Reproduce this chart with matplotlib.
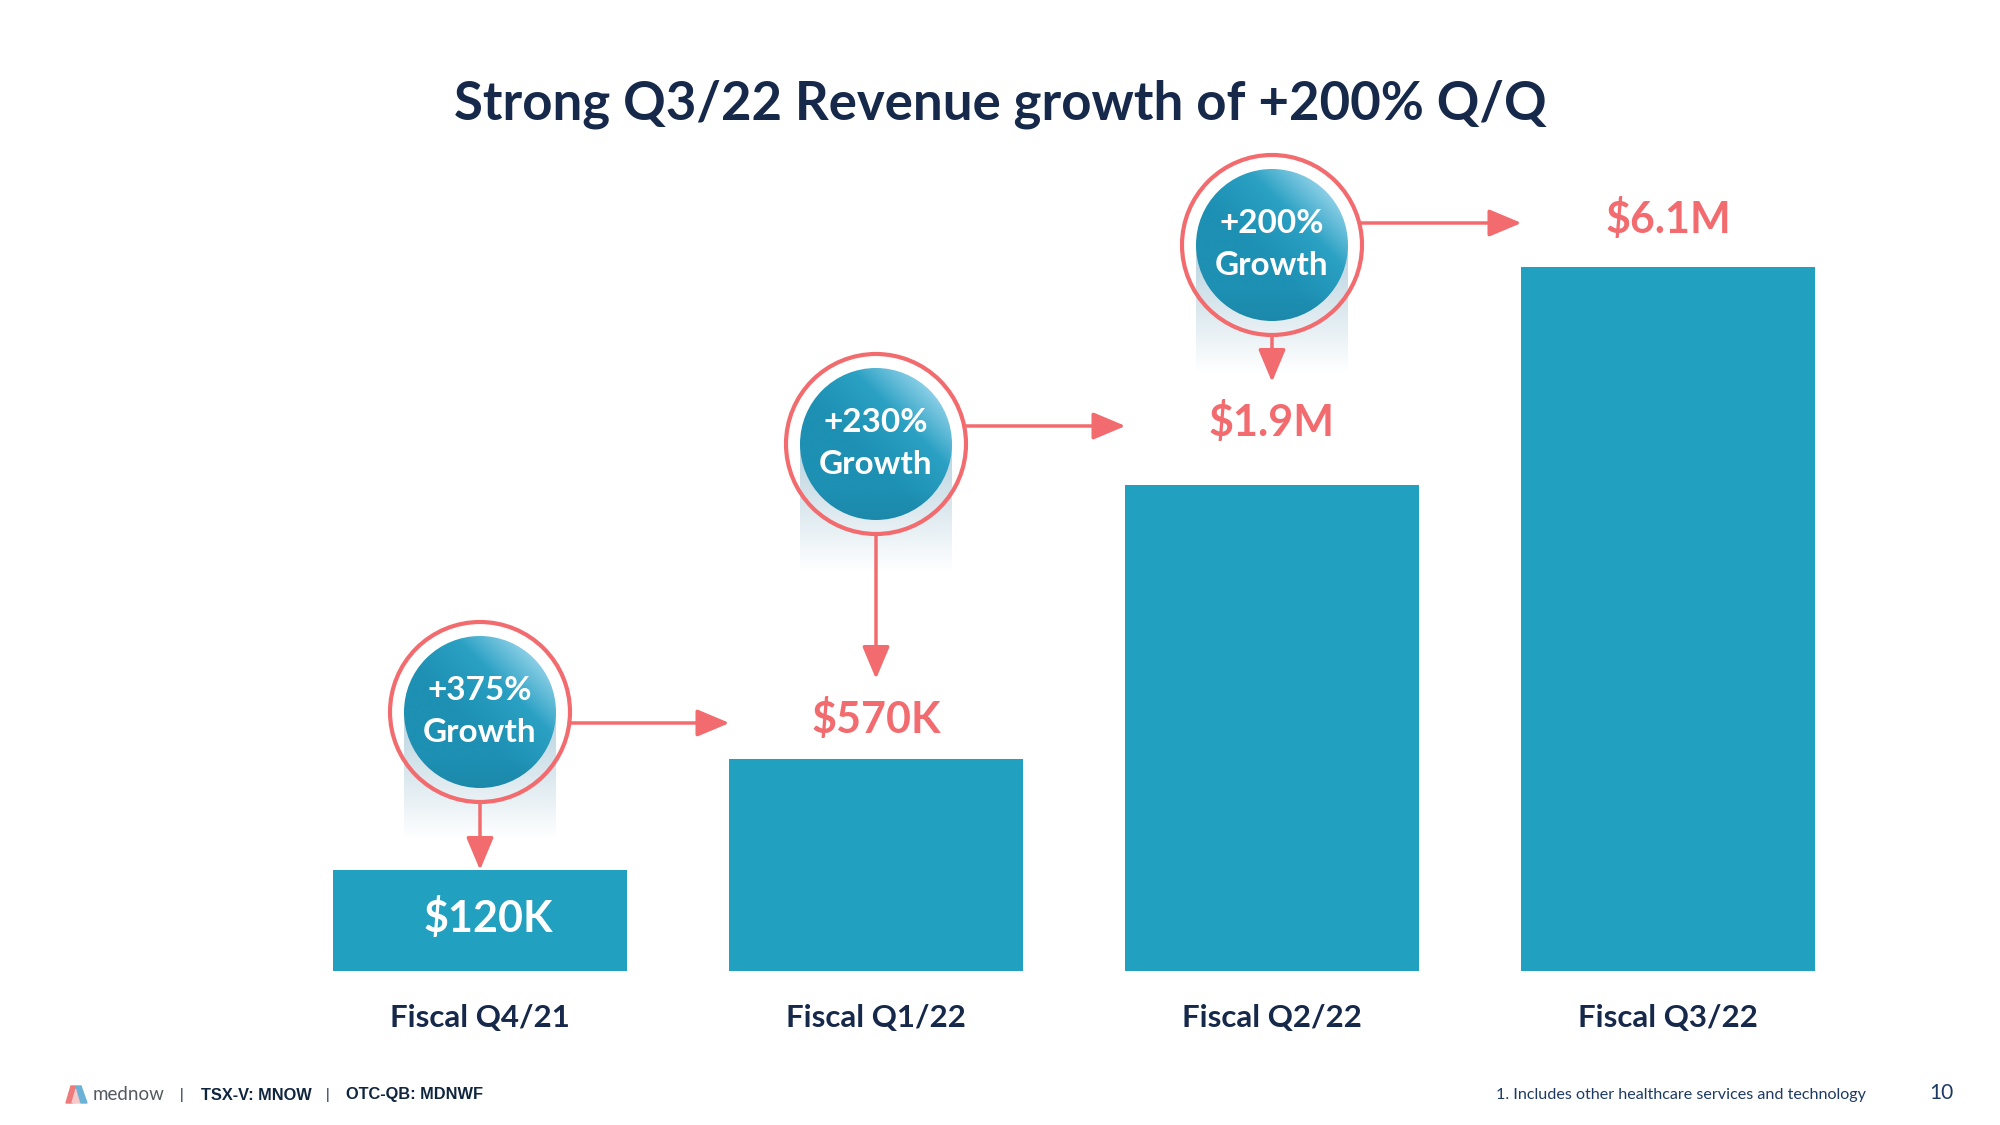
import numpy as np
import matplotlib.pyplot as plt
from matplotlib import font_manager
from matplotlib.patches import Ellipse, Polygon
from matplotlib.colors import to_rgb

categories = ["Fiscal Q4/21", "Fiscal Q1/22", "Fiscal Q2/22", "Fiscal Q3/22"]
revenue_labels = ["$120K", "$570K", "$1.9M", "$6.1M"]
# bar heights as drawn on the slide (the slide is not to scale)
bar_heights = [101, 212, 486, 704]
growth_labels = ["+375%", "+230%", "+200%"]

TEAL = "#22a0c0"
CORAL = "#f26b6e"
NAVY = "#16294a"
FONT = ["Lato", "DejaVu Sans"]

installed = {f.name for f in font_manager.fontManager.ttflist}
NARROW = ["Liberation Sans Narrow", "Liberation Sans"] if "Liberation Sans Narrow" in installed else ["Liberation Sans"]

W, H, DPI = 20, 11.25, 100
fig = plt.figure(figsize=(W, H), dpi=DPI)
fig.patch.set_facecolor("white")

AX_W = 0.792
ax = fig.add_axes([0.141, 0.1369, AX_W, 0.8])
ax.axis("off")
px_x = AX_W * W * DPI / 4.0   # pixels per x unit (y is 1 px per unit)

x = np.arange(len(categories))
bw = 0.74
ax.bar(x, bar_heights, width=bw, color=TEAL, zorder=2)

# value labels
value_pad = [0, 40, 63, 48]
label_y = []
for i, (h, lab) in enumerate(zip(bar_heights, revenue_labels)):
    if i == 0:
        y, col, dx = h * 0.52, "white", 0.02
    else:
        y, col, dx = h + value_pad[i], CORAL, 0
    ax.text(i + dx, y, lab, ha="center", va="center", fontsize=31, fontweight="bold",
            color=col, family=FONT, zorder=5)
    label_y.append(y)

# category labels
for i, cat in enumerate(categories):
    ax.text(i, -47, cat, ha="center", va="center", fontsize=22.5, fontweight="bold",
            color=NAVY, family=FONT, clip_on=False)

# growth bubbles
circle_y = [259, 527, 726]
R_RING, R_BALL = 90, 76
dark, mid, light = map(np.array, map(to_rgb, ["#1d90b3", "#2aa0c3", "#a0d9ee"]))

n = 200
u, v = np.meshgrid(np.linspace(-1, 1, n), np.linspace(-1, 1, n))
t = np.clip((u + v + 0.3) / 1.9, 0, 1)[..., None]
ball = np.where(t < 0.5, dark + (mid - dark) * (t / 0.5), mid + (light - mid) * ((t - 0.5) / 0.5))
ball = ball * (1 - 0.12 * np.clip(-(v[..., None]) - 0.6, 0, 1))

refl = np.zeros((100, 1, 4))
refl[..., :3] = to_rgb("#b3cfdc")
refl[:, 0, 3] = np.linspace(0.95, 0.0, 100)

for i, g in enumerate(growth_labels):
    cx, cy = i, circle_y[i]
    rb = R_BALL / px_x
    ax.imshow(refl, extent=[cx - rb, cx + rb, cy - 128, cy], aspect="auto", zorder=3)
    im = ax.imshow(ball, extent=[cx - rb, cx + rb, cy - R_BALL, cy + R_BALL],
                   origin="lower", aspect="auto", zorder=4)
    im.set_clip_path(Ellipse((cx, cy), 2 * rb, 2 * R_BALL, transform=ax.transData))
    ax.add_patch(Ellipse((cx, cy), 2 * R_RING / px_x, 2 * R_RING, fill=False,
                         ec=CORAL, lw=3, zorder=5, clip_on=False))
    ax.text(cx, cy + 21, g, ha="center", va="center", fontsize=24, fontweight="bold",
            color="white", family=FONT, zorder=6)
    ax.text(cx, cy - 21, "Growth", ha="center", va="center", fontsize=24,
            fontweight="bold", color="white", family=FONT, zorder=6)

    aprops = dict(arrowstyle="-|>,head_length=1.0,head_width=0.42", color=CORAL,
                  lw=2.5, shrinkA=0, shrinkB=0, mutation_scale=20)
    # right arrow to next bar
    ya = label_y[i + 1] - 4
    dy = ya - cy
    x0 = cx + np.sqrt(max(R_RING ** 2 - dy ** 2, 0)) / px_x
    ax.annotate("", xy=(i + 1 - bw / 2, ya), xytext=(x0, ya), arrowprops=aprops,
                annotation_clip=False, zorder=5)
    # down arrow to this bar
    tip = bar_heights[0] if i == 0 else label_y[i] + 40
    ax.annotate("", xy=(cx, tip), xytext=(cx, cy - R_RING), arrowprops=aprops,
                annotation_clip=False, zorder=5)

ax.set_xlim(-0.5, 3.5)
ax.set_ylim(0, 900)

# title
fig.text(0.5, 1 - 104 / 1125, "Strong Q3/22 Revenue growth of +200% Q/Q", ha="center",
         va="center", fontsize=38, fontweight="bold", color=NAVY, family=FONT)

# footer
def fx(px):
    return px / 2000

fy = 1 - 1095 / 1125
over = fig.add_axes([0, 0, 1, 1])
over.set_xlim(0, 2000)
over.set_ylim(1125, 0)
over.axis("off")
over.patch.set_visible(False)
over.add_patch(Polygon([[66, 1103], [71, 1086], [76, 1086], [73, 1103]], closed=True, color="#ef7a7c"))
over.add_patch(Polygon([[72, 1103], [76, 1089], [80, 1103]], closed=True, color="#f6c9cb"))
over.add_patch(Polygon([[76, 1086], [81, 1086], [87, 1103], [81, 1103]], closed=True, color="#6cb2d6"))

fig.text(fx(93), fy, "mednow", ha="left", va="center", fontsize=13.5, color="#555a60", family=FONT)
fig.text(fx(182), fy, "|", ha="center", va="center", fontsize=10, color=NAVY, family=NARROW)
fig.text(fx(201), fy, "TSX-V: MNOW", ha="left", va="center", fontsize=11.8,
         fontweight="bold", color="#10263f", family=NARROW)
fig.text(fx(328), fy, "|", ha="center", va="center", fontsize=10, color=NAVY, family=NARROW)
fig.text(fx(346), fy, "OTC-QB: MDNWF", ha="left", va="center", fontsize=11.8,
         fontweight="bold", color="#10263f", family=NARROW)
fig.text(fx(1866), fy, "1. Includes other healthcare services and technology", ha="right",
         va="center", fontsize=11.6, color="#1c3a64", family=FONT)
fig.text(fx(1941), fy + 0.002, "10", ha="center", va="center", fontsize=15,
         color="#1c3a64", family=FONT)

fig.savefig("out.png", dpi=DPI, facecolor="white")
